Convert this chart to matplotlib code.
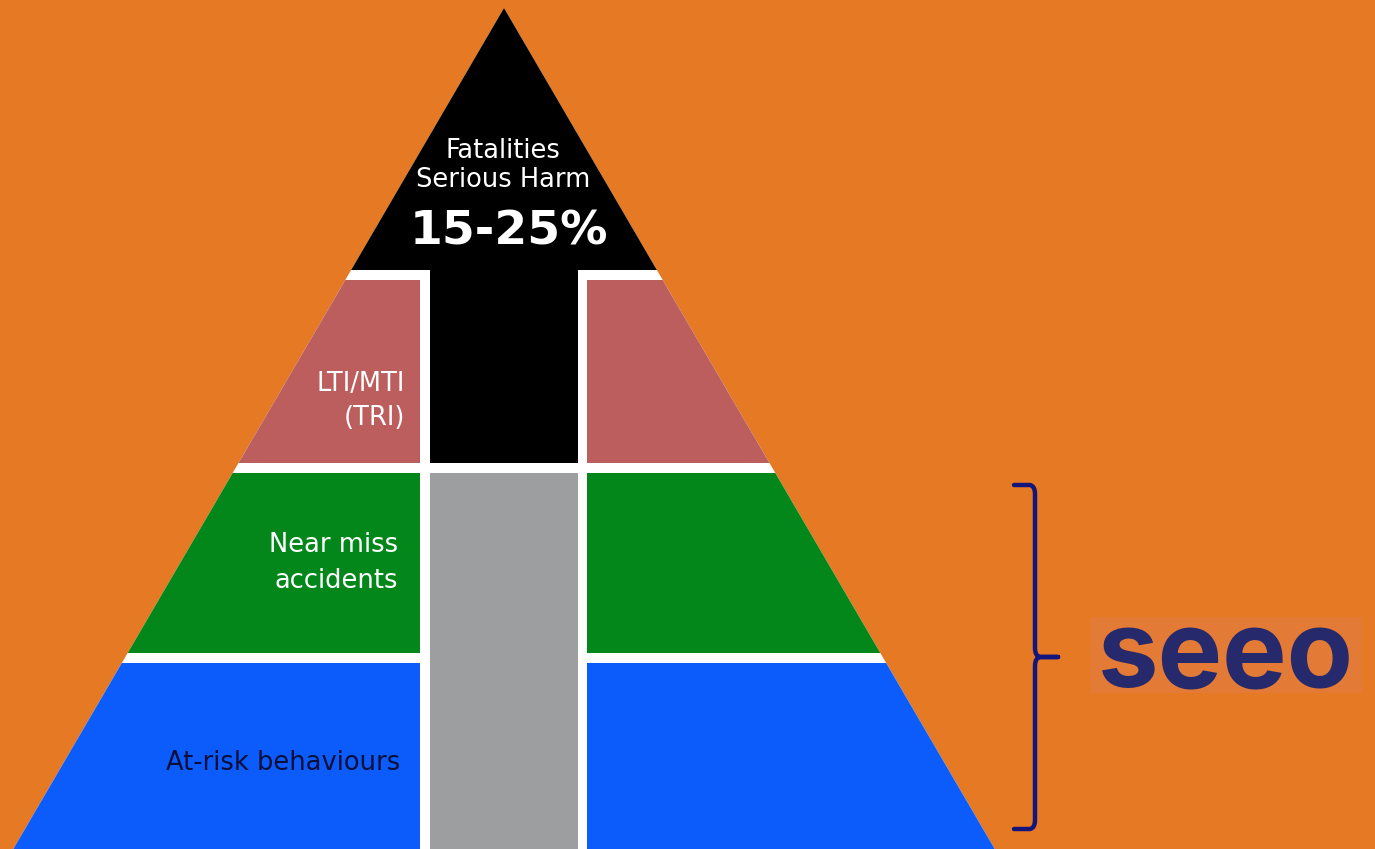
import matplotlib
matplotlib.use("Agg")
import matplotlib.pyplot as plt
from matplotlib.patches import Polygon, Rectangle, PathPatch
from matplotlib.path import Path

# ---- data ----
W, H = 1375, 849
apex = (504, 8)
base_y = 849
half_slope = 0.5835           # half-width growth per unit of depth

# bands: (top, bottom, colour) for the side panels
band_tops = [280, 473, 663]
band_bottoms = [463, 653, 849]
band_colors = ["#BC5E5E", "#03871A", "#0B5CFB"]

# central column
col_left, col_right = 430, 578
side_left_end, side_right_start = 420, 587
top_black_bottom = 270
col_black_bottom = 463
col_gray_top = 473
col_gray_color = "#9D9E9F"

labels_white = ["Fatalities", "Serious Harm"]
big_label = "15-25%"
band_labels = [["LTI/MTI", "(TRI)"], ["Near miss", "accidents"], ["At-risk behaviours"]]
band_label_colors = ["white", "white", "#0A0F3A"]
logo_text = "seeo"

bg = "#E67A24"
navy = "#14157A"

fig = plt.figure(figsize=(W / 100, H / 100), dpi=100)
fig.patch.set_facecolor(bg)
ax = fig.add_axes([0, 0, 1, 1])
ax.set_xlim(0, W)
ax.set_ylim(H, 0)
ax.axis("off")
ax.set_facecolor(bg)

hw = (base_y - apex[1]) * half_slope
tri = Polygon([apex, (apex[0] - hw, base_y), (apex[0] + hw, base_y)],
              closed=True, facecolor="white", edgecolor="none", zorder=1)
ax.add_patch(tri)

def clipped_rect(x0, y0, x1, y1, color):
    r = Rectangle((x0, y0), x1 - x0, y1 - y0, facecolor=color, edgecolor="none", zorder=2)
    ax.add_patch(r)
    r.set_clip_path(tri)
    return r

# black top
clipped_rect(0, 0, W, top_black_bottom, "black")
clipped_rect(col_left, top_black_bottom - 1, col_right, col_black_bottom, "black")
# gray column
clipped_rect(col_left, col_gray_top, col_right, base_y + 2, col_gray_color)
# side bands
for t, b, c in zip(band_tops, band_bottoms, band_colors):
    clipped_rect(0, t, side_left_end, b + (2 if b == base_y else 0), c)
    clipped_rect(side_right_start, t, W, b + (2 if b == base_y else 0), c)

# texts
fs = 18.5
ax.text(503, 158, labels_white[0], color="white", fontsize=fs, ha="center", va="baseline", zorder=5)
ax.text(503, 187, labels_white[1], color="white", fontsize=fs, ha="center", va="baseline", zorder=5)
ax.text(509, 244, big_label, color="white", fontsize=34, fontweight="bold", ha="center", va="baseline", zorder=5)

label_baselines = [[391, 425], [552, 588], [770]]
label_right = [405, 398, 400]
for lines, bls, xr, col in zip(band_labels, label_baselines, label_right, band_label_colors):
    for s, yb in zip(lines, bls):
        ax.text(xr, yb, s, color=col, fontsize=fs, ha="right", va="baseline", zorder=5)

# brace
verts = [(1014, 485), (1030, 485), (1035, 486), (1035, 494),
         (1035, 648),
         (1035, 656), (1040, 657), (1058, 657),
         (1040, 657), (1035, 658), (1035, 666),
         (1035, 820),
         (1035, 828), (1030, 829), (1014, 829)]
codes = [Path.MOVETO, Path.LINETO, Path.CURVE3, Path.CURVE3,
         Path.LINETO,
         Path.CURVE3, Path.CURVE3, Path.LINETO,
         Path.LINETO, Path.CURVE3, Path.CURVE3,
         Path.LINETO,
         Path.CURVE3, Path.CURVE3, Path.LINETO]
ax.add_patch(PathPatch(Path(verts, codes), facecolor="none", edgecolor=navy,
                       lw=3.2, capstyle="round", joinstyle="round", zorder=5))

# logo
ax.add_patch(Rectangle((1090, 617), 272, 76, facecolor="#E37B36", edgecolor="none", zorder=3))
ax.text(1226, 687, logo_text, color="#26296B", fontsize=78, fontweight="bold",
        family="Inter", ha="center", va="baseline", zorder=5)

fig.savefig("out.png", dpi=100, facecolor=bg)
